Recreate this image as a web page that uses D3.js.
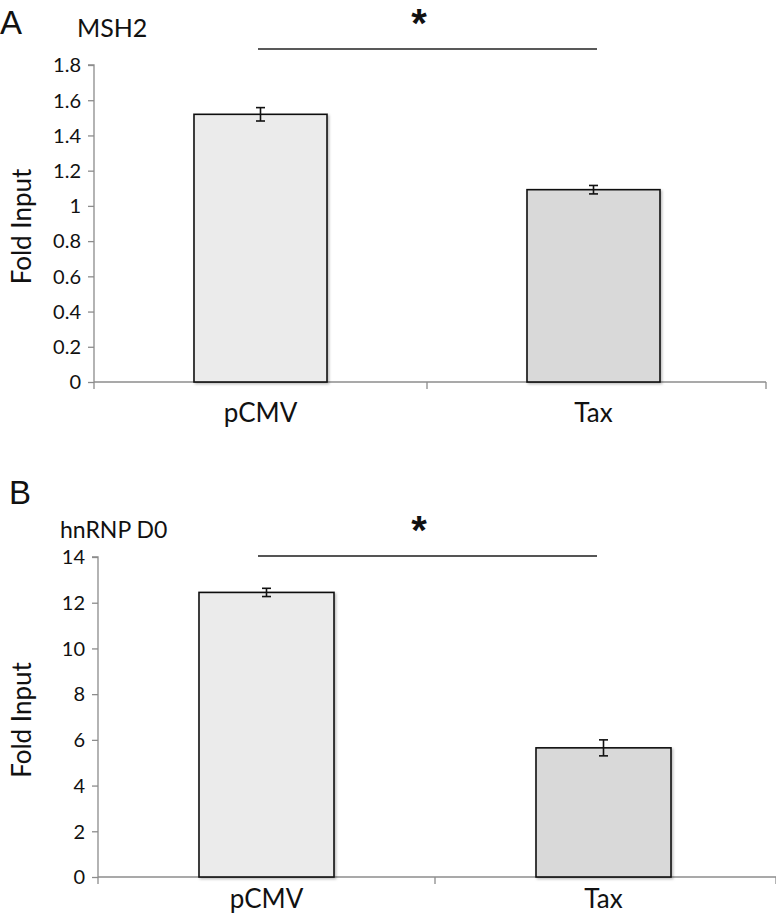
<!DOCTYPE html>
<html>
<head>
<meta charset="utf-8">
<script src="https://cdn.jsdelivr.net/npm/d3@7"></script>
<style>
  html, body { margin: 0; padding: 0; background: #fff; }
  svg { display: block; }
  text { font-family: Lato, "Open Sans", sans-serif; fill: #111; }
</style>
</head>
<body>
<svg id="chart" width="776" height="915"></svg>
<script>
// ---- data ----
const categories = ["pCMV", "Tax"];
const msh2Values = [1.52, 1.092];
const msh2Errors = [0.038, 0.024];
const msh2Ticks = [0, 0.2, 0.4, 0.6, 0.8, 1, 1.2, 1.4, 1.6, 1.8];
const hnrnpValues = [12.45, 5.65];
const hnrnpErrors = [0.18, 0.35];
const hnrnpTicks = [0, 2, 4, 6, 8, 10, 12, 14];
const barFills = ["#ebebeb", "#d9d9d9"];

const svg = d3.select("#chart");
const defs = svg.append("defs");
defs.append("filter").attr("id", "shadow").attr("x", "-10%").attr("y", "-10%").attr("width", "130%").attr("height", "130%")
  .append("feDropShadow").attr("dx", 1.5).attr("dy", 1.5).attr("stdDeviation", 1.2).attr("flood-color", "#000").attr("flood-opacity", 0.25);

function panel(cfg) {
  const g = svg.append("g");
  const y = d3.scaleLinear().domain([0, cfg.max]).range([cfg.y0, cfg.y1]);
  const x = d3.scaleBand().domain(categories).range([cfg.x0, cfg.x1]);

  // y axis
  const yAxis = d3.axisLeft(y).tickValues(cfg.ticks).tickSize(6).tickPadding(7)
    .tickFormat(d => String(+d.toFixed(1)));
  const ya = g.append("g").attr("transform", `translate(${cfg.x0},0)`).call(yAxis);
  ya.select(".domain").attr("stroke", "#8c8c8c").attr("stroke-width", 1.3)
    .attr("d", `M-6,${y(cfg.max)}H0V${cfg.y0}`);
  ya.selectAll(".tick line").attr("stroke", "#8c8c8c").attr("stroke-width", 1.3);
  ya.selectAll(".tick text").style("font-size", "20px").attr("fill", "#111").attr("dy", "0.34em");

  // x axis
  const xa = g.append("g").attr("transform", `translate(0,${cfg.y0})`);
  xa.append("line").attr("x1", cfg.x0).attr("x2", cfg.axisEnd).attr("y1", 0).attr("y2", 0)
    .attr("stroke", "#8c8c8c").attr("stroke-width", 1.5);
  const xt = [cfg.x0, x("Tax"), cfg.axisEnd];
  xa.selectAll("line.t").data(xt).enter().append("line").attr("class", "t")
    .attr("x1", d => d).attr("x2", d => d).attr("y1", 0).attr("y2", 7)
    .attr("stroke", "#8c8c8c").attr("stroke-width", 1.3);
  xa.selectAll("text").data(categories).enter().append("text")
    .attr("x", d => x(d) + x.bandwidth() / 2).attr("y", cfg.labelDy)
    .attr("text-anchor", "middle").style("font-size", "26px").text(d => d);

  // bars
  const bw = cfg.barW;
  g.selectAll("rect.bar").data(categories).enter().append("rect").attr("class", "bar")
    .attr("x", d => x(d) + x.bandwidth() / 2 - bw / 2)
    .attr("y", (d, i) => y(cfg.values[i]))
    .attr("width", bw)
    .attr("height", (d, i) => y(0) - y(cfg.values[i]))
    .attr("fill", (d, i) => barFills[i])
    .attr("stroke", "#111").attr("stroke-width", 1.6)
    .attr("filter", "url(#shadow)");

  // error bars
  const eb = g.selectAll("g.err").data(categories).enter().append("g").attr("class", "err");
  eb.append("line")
    .attr("x1", d => x(d) + x.bandwidth() / 2).attr("x2", d => x(d) + x.bandwidth() / 2)
    .attr("y1", (d, i) => y(cfg.values[i] + cfg.errors[i]))
    .attr("y2", (d, i) => y(cfg.values[i] - cfg.errors[i]))
    .attr("stroke", "#111").attr("stroke-width", 1.6);
  [1, -1].forEach(s => {
    eb.append("line")
      .attr("x1", d => x(d) + x.bandwidth() / 2 - 4.5).attr("x2", d => x(d) + x.bandwidth() / 2 + 4.5)
      .attr("y1", (d, i) => y(cfg.values[i] + s * cfg.errors[i]))
      .attr("y2", (d, i) => y(cfg.values[i] + s * cfg.errors[i]))
      .attr("stroke", "#111").attr("stroke-width", 1.6);
  });

  // y title
  g.append("text").attr("transform", `translate(${cfg.titleX},${(cfg.y0 + cfg.y1) / 2 + 3}) rotate(-90)`)
    .attr("text-anchor", "middle").style("font-size", "26px").text("Fold Input");

  // chart title
  g.append("text").attr("x", cfg.nameX).attr("y", cfg.nameY).style("font-size", cfg.nameSize).text(cfg.name);

  // panel letter
  g.append("text").attr("x", cfg.letterX).attr("y", cfg.letterY)
    .style("font-family", "'Liberation Sans', Arial, sans-serif").style("font-size", "33px").text(cfg.letter);

  // significance
  g.append("line").attr("x1", 258).attr("x2", 597).attr("y1", cfg.sigY).attr("y2", cfg.sigY)
    .attr("stroke", cfg.sigColor).attr("stroke-width", cfg.sigW);
  g.append("text").attr("x", 419).attr("y", cfg.sigY - 12).attr("text-anchor", "middle")
    .style("font-family", "'Liberation Sans', Arial, sans-serif").style("font-size", "40px").style("font-weight", "bold")
    .text("*");
}

panel({
  values: msh2Values, errors: msh2Errors, ticks: msh2Ticks, max: 1.8,
  y0: 382, y1: 65, x0: 94, x1: 760, axisEnd: 766, barW: 133, labelDy: 40,
  titleX: 31, name: "MSH2", nameSize: "25px", nameX: 77, nameY: 37, letter: "A", letterX: 0, letterY: 34,
  sigY: 49, sigColor: "#222", sigW: 1.4
});
panel({
  values: hnrnpValues, errors: hnrnpErrors, ticks: hnrnpTicks, max: 14,
  y0: 877, y1: 557, x0: 98, x1: 772, axisEnd: 776, barW: 135, labelDy: 31,
  titleX: 31, name: "hnRNP D0", nameSize: "23px", nameX: 60, nameY: 538, letter: "B", letterX: 9, letterY: 504,
  sigY: 556, sigColor: "#555", sigW: 2
});
</script>
</body>
</html>
